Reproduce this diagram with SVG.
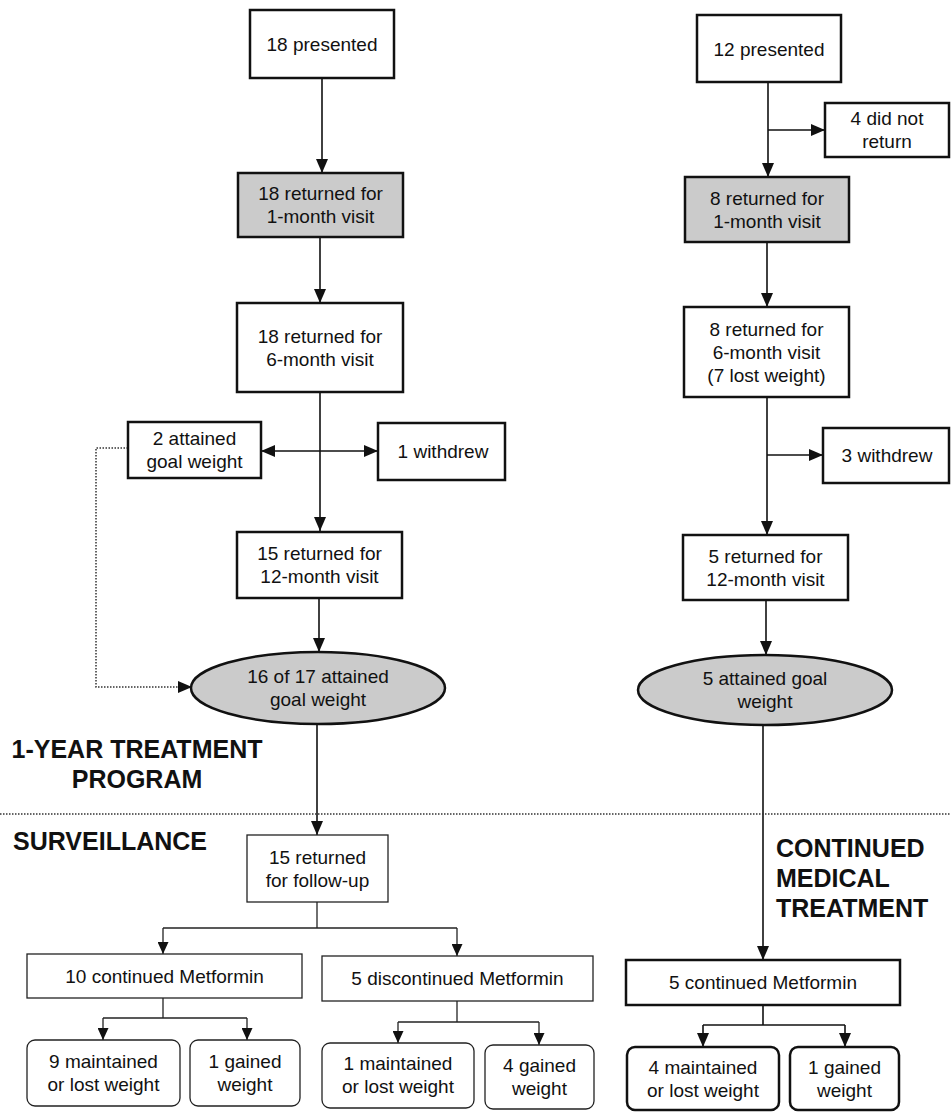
<svg xmlns="http://www.w3.org/2000/svg" width="951" height="1112" viewBox="0 0 951 1112">
<style>
.t{font-family:"Liberation Sans",Arial,sans-serif;font-size:19px;fill:#111;text-anchor:middle}
.h{font-family:"Liberation Sans",Arial,sans-serif;font-size:25px;font-weight:bold;fill:#111}
.bx{fill:#fff;stroke:#111;stroke-width:2.5}
.gr{fill:#cbcbcb;stroke:#111;stroke-width:2.5}
.thin{fill:#fff;stroke:#222;stroke-width:1.3}
.c{fill:none;stroke:#111;stroke-width:1.6}
.cs{fill:none;stroke:#222;stroke-width:1.3}
.dot{fill:none;stroke:#333;stroke-width:1.5;stroke-dasharray:1.5 1.5}
</style>
<defs>
<marker id="a" markerUnits="userSpaceOnUse" markerWidth="14" markerHeight="12" refX="14" refY="6" orient="auto-start-reverse"><path d="M0,0 L14,6 L0,12 z" fill="#111"/></marker>
<marker id="s" markerUnits="userSpaceOnUse" markerWidth="12" markerHeight="11" refX="12" refY="5.5" orient="auto"><path d="M0,0 L12,5.5 L0,11 z" fill="#111"/></marker>
</defs>

<g id="connectors">
<line class="c" x1="322" y1="78" x2="322" y2="173" marker-end="url(#a)"/>
<line class="c" x1="320" y1="237" x2="320" y2="303" marker-end="url(#a)"/>
<line class="c" x1="320" y1="392" x2="320" y2="531" marker-end="url(#a)"/>
<line class="c" x1="261" y1="451" x2="378" y2="451" marker-start="url(#a)" marker-end="url(#a)"/>
<line class="c" x1="319" y1="598" x2="319" y2="652" marker-end="url(#a)"/>
<polyline class="dot" points="128,448 96,448 96,687 192,687" marker-end="url(#a)"/>
<line class="c" x1="317" y1="725" x2="317" y2="835" marker-end="url(#a)"/>
<polyline class="cs" points="317,902 317,928"/>
<polyline class="cs" points="163,928 457,928"/>
<line class="cs" x1="163" y1="928" x2="163" y2="954" marker-end="url(#s)"/>
<line class="cs" x1="457" y1="928" x2="457" y2="956" marker-end="url(#s)"/>
<polyline class="cs" points="163,998 163,1018"/>
<polyline class="cs" points="103,1018 247,1018"/>
<line class="cs" x1="103" y1="1018" x2="103" y2="1040" marker-end="url(#s)"/>
<line class="cs" x1="247" y1="1018" x2="247" y2="1040" marker-end="url(#s)"/>
<polyline class="cs" points="457,1001 457,1022"/>
<polyline class="cs" points="398,1022 539,1022"/>
<line class="cs" x1="398" y1="1022" x2="398" y2="1043" marker-end="url(#s)"/>
<line class="cs" x1="539" y1="1022" x2="539" y2="1045" marker-end="url(#s)"/>
<line class="c" x1="768" y1="82" x2="768" y2="177" marker-end="url(#a)"/>
<line class="c" x1="768" y1="130" x2="825" y2="130" marker-end="url(#a)"/>
<line class="c" x1="767" y1="242" x2="767" y2="307" marker-end="url(#a)"/>
<line class="c" x1="767" y1="397" x2="767" y2="535" marker-end="url(#a)"/>
<line class="c" x1="767" y1="455" x2="823" y2="455" marker-end="url(#a)"/>
<line class="c" x1="766" y1="600" x2="766" y2="655" marker-end="url(#a)"/>
<line class="c" x1="763" y1="725" x2="763" y2="960" marker-end="url(#a)"/>
<polyline class="c" points="763,1005 763,1025"/>
<polyline class="c" points="703,1025 845,1025"/>
<line class="c" x1="703" y1="1025" x2="703" y2="1047" marker-end="url(#a)"/>
<line class="c" x1="845" y1="1025" x2="845" y2="1047" marker-end="url(#a)"/>
<line class="dot" x1="0" y1="814" x2="951" y2="814" stroke-width="1.2"/>
</g>

<g id="n-18-presented"><rect class="bx" x="250" y="10" width="144" height="68"/><text class="t" x="322" y="51">18 presented</text></g>
<g id="n-18-1month"><rect class="gr" x="238" y="173" width="165" height="64"/><text class="t" x="320.5" y="200">18 returned for</text><text class="t" x="320.5" y="223">1-month visit</text></g>
<g id="n-18-6month"><rect class="bx" x="237" y="303" width="166" height="89"/><text class="t" x="320" y="343">18 returned for</text><text class="t" x="320" y="366">6-month visit</text></g>
<g id="n-2-attained"><rect class="bx" x="128" y="422" width="133" height="56"/><text class="t" x="194.5" y="445">2 attained</text><text class="t" x="194.5" y="468">goal weight</text></g>
<g id="n-1-withdrew"><rect class="bx" x="378" y="423" width="127" height="57"/><text class="t" x="443" y="458">1 withdrew</text></g>
<g id="n-15-12month"><rect class="bx" x="237" y="532" width="165" height="66"/><text class="t" x="319.5" y="560">15 returned for</text><text class="t" x="319.5" y="583">12-month visit</text></g>
<g id="n-16-of-17"><ellipse class="gr" cx="318" cy="688" rx="127" ry="36"/><text class="t" x="318" y="683">16 of 17 attained</text><text class="t" x="318" y="706">goal weight</text></g>

<g id="n-12-presented"><rect class="bx" x="697" y="15" width="144" height="67"/><text class="t" x="769" y="56">12 presented</text></g>
<g id="n-4-did-not-return"><rect class="bx" x="825" y="103" width="124" height="54"/><text class="t" x="887" y="125">4 did not</text><text class="t" x="887" y="148">return</text></g>
<g id="n-8-1month"><rect class="gr" x="685" y="177" width="164" height="65"/><text class="t" x="767" y="205">8 returned for</text><text class="t" x="767" y="228">1-month visit</text></g>
<g id="n-8-6month"><rect class="bx" x="684" y="307" width="165" height="90"/><text class="t" x="766.5" y="336">8 returned for</text><text class="t" x="766.5" y="359">6-month visit</text><text class="t" x="766.5" y="382">(7 lost weight)</text></g>
<g id="n-3-withdrew"><rect class="bx" x="823" y="428" width="126" height="55"/><text class="t" x="887" y="462">3 withdrew</text></g>
<g id="n-5-12month"><rect class="bx" x="683" y="535" width="165" height="65"/><text class="t" x="765.5" y="563">5 returned for</text><text class="t" x="765.5" y="586">12-month visit</text></g>
<g id="n-5-attained"><ellipse class="gr" cx="765" cy="690" rx="127" ry="35"/><text class="t" x="765" y="685">5 attained goal</text><text class="t" x="765" y="708">weight</text></g>

<g id="labels">
<text class="h" x="137" y="758" text-anchor="middle">1-YEAR TREATMENT</text>
<text class="h" x="137" y="788" text-anchor="middle">PROGRAM</text>
<text class="h" x="13" y="850">SURVEILLANCE</text>
<text class="h" x="776" y="857">CONTINUED</text>
<text class="h" x="776" y="887">MEDICAL</text>
<text class="h" x="776" y="917">TREATMENT</text>
</g>

<g id="n-15-followup"><rect class="thin" x="247" y="835" width="141" height="67"/><text class="t" x="317.5" y="864">15 returned</text><text class="t" x="317.5" y="887">for follow-up</text></g>
<g id="n-10-continued"><rect class="thin" x="27" y="954" width="275" height="44"/><text class="t" x="164.5" y="983">10 continued Metformin</text></g>
<g id="n-5-discontinued"><rect class="thin" x="322" y="956" width="271" height="45"/><text class="t" x="457.5" y="985">5 discontinued Metformin</text></g>
<g id="n-9-maintained"><rect class="thin" x="27" y="1040" width="153" height="66" rx="8"/><text class="t" x="103.5" y="1068">9 maintained</text><text class="t" x="103.5" y="1091">or lost weight</text></g>
<g id="n-1-gained-a"><rect class="thin" x="190" y="1040" width="110" height="66" rx="8"/><text class="t" x="245" y="1068">1 gained</text><text class="t" x="245" y="1091">weight</text></g>
<g id="n-1-maintained"><rect class="thin" x="322" y="1043" width="152" height="65" rx="8"/><text class="t" x="398" y="1070">1 maintained</text><text class="t" x="398" y="1093">or lost weight</text></g>
<g id="n-4-gained"><rect class="thin" x="485" y="1045" width="109" height="64" rx="8"/><text class="t" x="539.5" y="1072">4 gained</text><text class="t" x="539.5" y="1095">weight</text></g>

<g id="n-5-continued"><rect class="bx" x="626" y="960" width="274" height="45"/><text class="t" x="763" y="989">5 continued Metformin</text></g>
<g id="n-4-maintained"><rect class="bx" x="627" y="1047" width="152" height="63" rx="8"/><text class="t" x="703" y="1074">4 maintained</text><text class="t" x="703" y="1097">or lost weight</text></g>
<g id="n-1-gained-b"><rect class="bx" x="790" y="1047" width="109" height="63" rx="8"/><text class="t" x="844.5" y="1074">1 gained</text><text class="t" x="844.5" y="1097">weight</text></g>
</svg>
